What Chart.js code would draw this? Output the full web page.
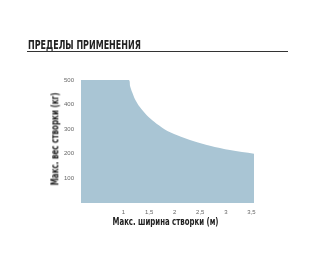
<!DOCTYPE html>
<html>
<head>
<meta charset="utf-8">
<script src="https://cdn.jsdelivr.net/npm/chart.js@4"></script>
<style>
  html, body { margin: 0; padding: 0; background: #fff; }
  #wrap { position: relative; width: 315px; height: 263px; overflow: hidden; }
  .lbl {
    position: absolute; white-space: nowrap;
    font-family: "DejaVu Sans", "Liberation Sans", sans-serif;
    font-stretch: condensed;
    font-weight: bold; color: #222; line-height: 1;
  }
  #title { left: 28px; top: 38px; font-size: 13px; transform-origin: 0 0; }
  #xtitle { font-size: 10px; transform-origin: 50% 50%; }
  #ytitle { font-size: 10px; transform-origin: 50% 50%; }
  #rule { position: absolute; left: 27px; top: 51px; width: 261px; height: 1px; background: #333; }
  canvas { position: absolute; left: 0; top: 0; }
</style>
</head>
<body>
<div id="wrap">
  <canvas id="c" width="315" height="263"></canvas>
  <div id="title" class="lbl">ПРЕДЕЛЫ ПРИМЕНЕНИЯ</div>
  <div id="rule"></div>
  <div id="xtitle" class="lbl">Макс. ширина створки (м)</div>
  <div id="ytitle" class="lbl">Макс. вес створки (кг)</div>
</div>
<script>
const widths  = [0.17, 1.10, 1.13, 1.17, 1.23, 1.32, 1.45, 1.60, 1.80, 2.05, 2.36, 2.69, 3.08, 3.55];
const weights = [500,  500,  475,  450,  420,  390,  358,  330,  300,  275,  252,  233,  215,  200];
const xTickValues = [1, 1.5, 2, 2.5, 3, 3.5];
const xTickLabels = ["1", "1,5", "2", "2,5", "3", "3,5"];
const yTickValues = [100, 200, 300, 400, 500];

const tickFont = '"Liberation Sans", "DejaVu Sans", sans-serif';

new Chart(document.getElementById('c'), {
  type: 'line',
  data: {
    datasets: [{
      data: widths.map((w, i) => ({ x: w, y: weights[i] })),
      fill: 'origin',
      backgroundColor: '#a9c5d4',
      borderWidth: 0,
      borderColor: 'rgba(0,0,0,0)',
      pointRadius: 0,
      tension: 0.3
    }]
  },
  options: {
    responsive: false,
    animation: false,
    layout: { padding: { left: 0, right: 61, top: 80, bottom: 0 } },
    plugins: { legend: { display: false }, tooltip: { enabled: false } },
    scales: {
      x: {
        type: 'linear',
        min: 0.17, max: 3.55,
        grid: { display: false, drawTicks: false },
        border: { display: false },
        afterBuildTicks: s => { s.ticks = xTickValues.map(v => ({ value: v })); },
        afterFit: s => { s.height = 60; },
        ticks: {
          padding: 6,
          color: '#666',
          font: { family: tickFont, size: 6 },
          maxRotation: 0,
          autoSkip: false,
          callback: (v) => { const i = xTickValues.indexOf(v); return i >= 0 ? xTickLabels[i] : ''; }
        }
      },
      y: {
        min: 0, max: 500,
        grid: { display: false, drawTicks: false },
        border: { display: false },
        afterBuildTicks: s => { s.ticks = yTickValues.map(v => ({ value: v })); },
        afterFit: s => { s.width = 81; },
        ticks: {
          padding: 7,
          color: '#666',
          font: { family: tickFont, size: 6 }
        }
      }
    }
  }
});

// fit condensed text labels to the reference widths
function fit(el, targetW, cx, cy, rotate) {
  const w = el.offsetWidth, h = el.offsetHeight;
  const sx = targetW / w;
  el.style.left = (cx - w / 2) + 'px';
  el.style.top = (cy - h / 2) + 'px';
  el.style.transform = (rotate ? 'rotate(-90deg) ' : '') + 'scaleX(' + sx + ')';
}
(function () {
  const t = document.getElementById('title');
  t.style.transform = 'scaleX(' + (113 / t.offsetWidth) + ')';
  fit(document.getElementById('xtitle'), 106, 165, 222, false);
  fit(document.getElementById('ytitle'), 93, 55, 139, true);
})();
</script>
</body>
</html>
